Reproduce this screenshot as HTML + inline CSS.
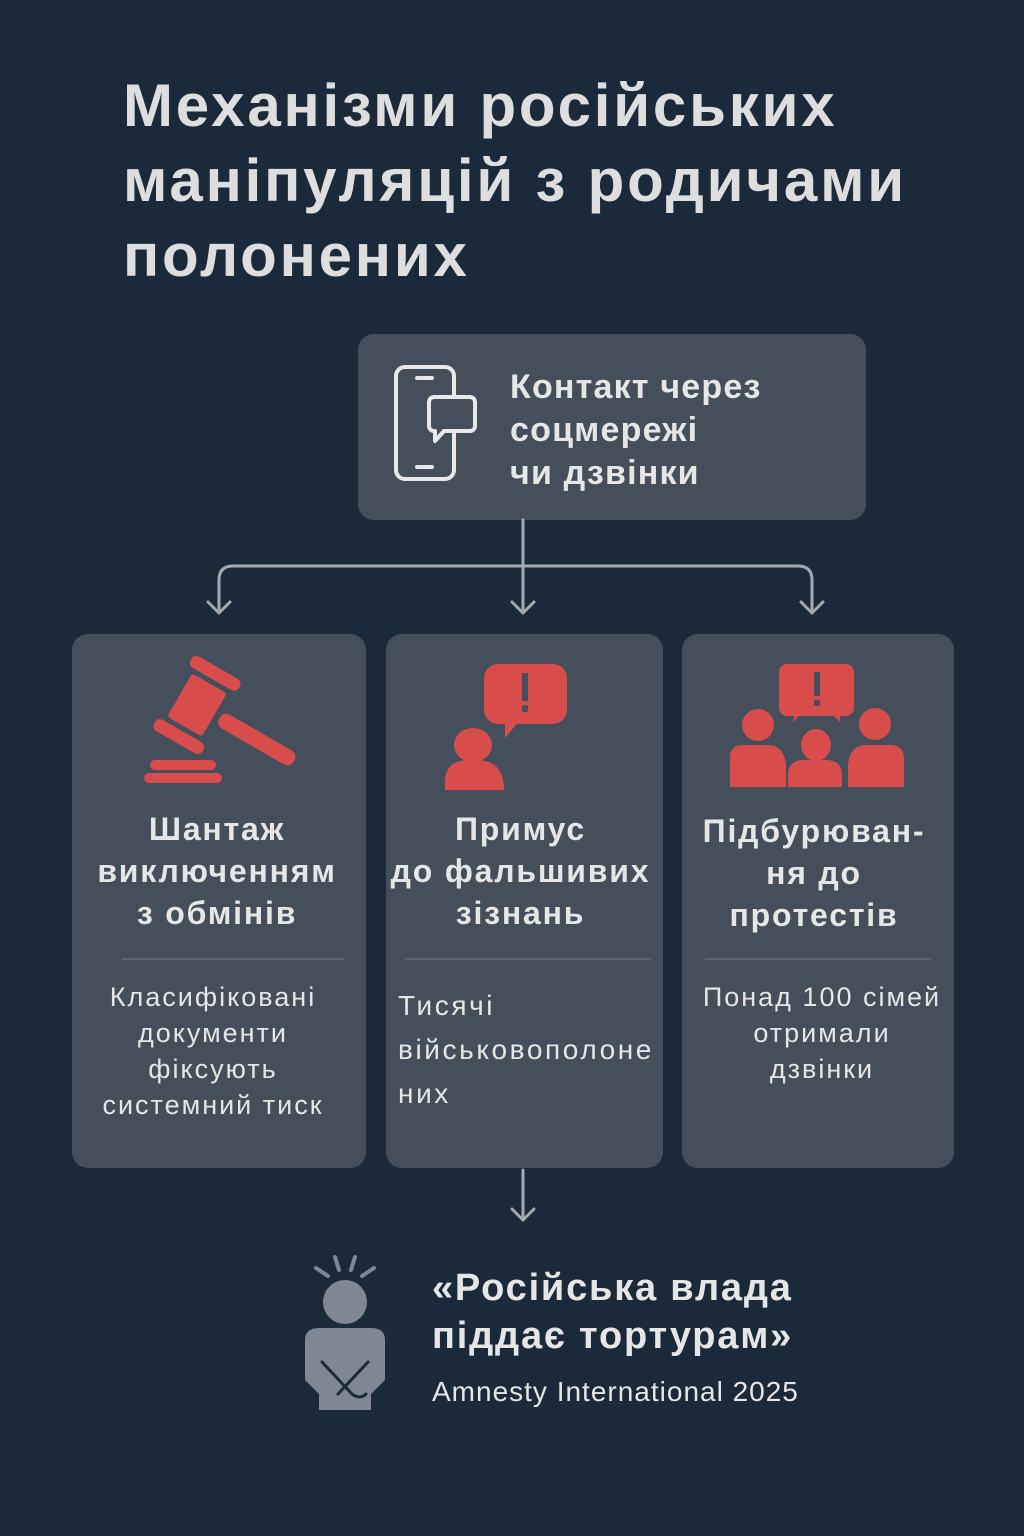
<!DOCTYPE html>
<html><head><meta charset="utf-8"><style>
html,body{margin:0;padding:0}
body{width:1024px;height:1536px;background:#1b2a3b;position:relative;overflow:hidden;font-family:"Liberation Sans","DejaVu Sans",sans-serif;color:#e4e4e4}
.t{position:absolute;white-space:nowrap}
.h1{left:123px;top:68px;font-size:60px;font-weight:bold;line-height:75px;color:#dedede;letter-spacing:2.8px}
.box{position:absolute;background:#454f5c;border-radius:16px}
.ct{font-size:32px;font-weight:bold;line-height:42px;text-align:center;color:#e6e6e6;letter-spacing:1.8px}
.cb{font-size:27px;line-height:36px;text-align:center;color:#e6e6e6;letter-spacing:2px}
.div{position:absolute;height:2px;background:#5a6470}
</style></head><body>
<div class="t h1">Механізми російських<br>маніпуляцій з родичами<br>полонених</div>

<div class="box" style="left:358px;top:334px;width:508px;height:186px"></div>
<svg style="position:absolute;left:0;top:0" width="1024" height="1536">
<g fill="none" stroke="#e8e8e8" stroke-width="4" stroke-linejoin="round" stroke-linecap="round">
<rect x="396" y="367" width="58" height="112" rx="9"/>
<line x1="417" y1="378" x2="432" y2="378"/><line x1="417" y1="467" x2="432" y2="467"/>
<path d="M434 397 h36 a5 5 0 0 1 5 5 v24 a5 5 0 0 1 -5 5 h-26 l-9 10 v-10 h-1 a5 5 0 0 1 -5 -5 v-24 a5 5 0 0 1 5 -5z" fill="#454f5c"/>
</g>
<g fill="none" stroke="#a3a9b1" stroke-width="3" stroke-linecap="round" stroke-linejoin="round">
<line x1="523" y1="520" x2="523" y2="613"/>
<path d="M219 613 V580 q0 -14 14 -14 H798 q14 0 14 14 V613"/>
<path d="M208 602 l11 11 l11 -11"/><path d="M512 602 l11 11 l11 -11"/><path d="M801 602 l11 11 l11 -11"/>
<line x1="523" y1="1170" x2="523" y2="1220"/><path d="M512 1209 l11 11 l11 -11"/>
</g>
</svg>
<div class="t" style="left:510px;top:366px;font-size:34px;font-weight:bold;line-height:43px;color:#e6e6e6;letter-spacing:1.2px">Контакт через<br>соцмережі<br>чи дзвінки</div>

<div class="box" style="left:72px;top:634px;width:294px;height:534px"></div>
<div class="box" style="left:386px;top:634px;width:277px;height:534px"></div>
<div class="box" style="left:682px;top:634px;width:272px;height:534px"></div>

<svg style="position:absolute;left:0;top:0" width="1024" height="1536">
<g fill="#d94c4c">
<g transform="translate(197,705) rotate(30)">
<rect x="-20" y="-25" width="40" height="50" rx="3"/>
<rect x="-28" y="-43" width="56" height="13" rx="6"/>
<rect x="-28" y="30" width="56" height="13" rx="6"/>
<rect x="26" y="-8" width="86" height="16" rx="7"/>
</g>
<rect x="150" y="760" width="66" height="10" rx="5"/>
<rect x="144" y="773" width="78" height="10" rx="5"/>
<rect x="484" y="664" width="83" height="60" rx="14"/>
<path d="M505 720 l0 18 l15 -18z"/>
<ellipse cx="473" cy="745" rx="19" ry="17"/>
<path d="M445 790 v-8 q0 -22 24 -22 h8 q27 0 27 30z"/>
<rect x="779" y="664" width="75" height="52" rx="8"/>
<path d="M795 712 l-2 11 l8 -11z M830 712 l10 10 l0 -10z"/>
<ellipse cx="758" cy="725" rx="16" ry="16"/>
<ellipse cx="875" cy="724" rx="16" ry="16"/>
<ellipse cx="816" cy="745" rx="15" ry="16"/>
<path d="M730 787 v-30 q0 -12 14 -12 h24 q16 0 18 20 v22z"/>
<path d="M848 787 v-22 q2 -20 18 -20 h24 q14 0 14 14 v28z"/>
<path d="M788 787 v-12 q0 -15 16 -15 h22 q16 0 16 15 v12z"/>
</g>
<g fill="#454f5c">
<rect x="522" y="673" width="6" height="28"/><rect x="522" y="705" width="6" height="7" rx="2"/>
<rect x="814" y="672" width="6" height="24"/><rect x="814" y="700" width="6" height="6" rx="2"/>
</g>
<g fill="#7e8793">
<circle cx="345" cy="1302" r="22"/>
<path d="M305 1340 q0 -12 14 -12 h52 q14 0 14 12 v40 l-14 14 v16 h-52 v-16 l-14 -14z"/>
</g>
<g stroke="#7e8793" stroke-width="4" stroke-linecap="round" fill="none">
<line x1="316" y1="1268" x2="328" y2="1276"/><line x1="335" y1="1257" x2="339" y2="1270"/>
<line x1="355" y1="1257" x2="351" y2="1270"/><line x1="374" y1="1268" x2="362" y2="1276"/>
</g>
<g stroke="#1b2a3b" stroke-width="3" stroke-linecap="round" fill="none">
<path d="M322 1362 l30 32 q8 6 14 0"/><path d="M368 1362 l-30 32"/>
</g>
</svg>

<div class="t ct" style="left:70px;width:294px;top:808px">Шантаж<br>виключенням<br>з обмінів</div>
<div class="div" style="left:122px;width:222px;top:958px"></div>
<div class="t cb" style="left:66px;width:294px;top:979px">Класифіковані<br>документи<br>фіксують<br>системний тиск</div>

<div class="t ct" style="left:382px;width:277px;top:808px">Примус<br>до фальшивих<br>зізнань</div>
<div class="div" style="left:405px;width:246px;top:958px"></div>
<div class="t" style="left:398px;top:984px;font-size:28px;line-height:44px;color:#e6e6e6;letter-spacing:2.6px">Тисячі<br>військовополоне<br>них</div>

<div class="t ct" style="left:678px;width:272px;top:810px">Підбурюван-<br>ня до<br>протестів</div>
<div class="div" style="left:705px;width:226px;top:958px"></div>
<div class="t cb" style="left:686px;width:272px;top:979px">Понад 100 сімей<br>отримали<br>дзвінки</div>

<div class="t" style="left:432px;top:1264px;font-size:38px;font-weight:bold;line-height:48px;color:#e6e6e6;letter-spacing:1.8px">«Російська влада<br>піддає тортурам»</div>
<div class="t" style="left:432px;top:1376px;font-size:28px;color:#e6e6e6;letter-spacing:1px">Amnesty International 2025</div>
</body></html>
